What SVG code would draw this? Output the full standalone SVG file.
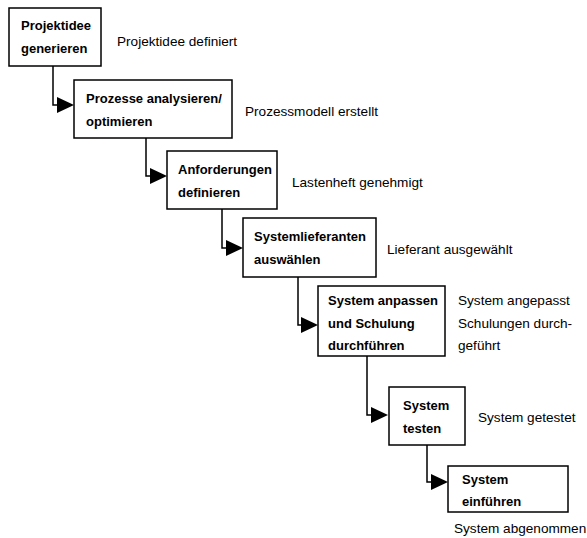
<svg xmlns="http://www.w3.org/2000/svg" width="587" height="538" viewBox="0 0 587 538">
<defs>
<style>
.box{fill:#fff;stroke:#000;stroke-width:1.5}
.t{font-family:"Liberation Sans",Arial,sans-serif;font-size:13px;font-weight:bold;fill:#000}
.l{font-family:"Liberation Sans",Arial,sans-serif;font-size:13.6px;fill:#000}
.c{fill:none;stroke:#000;stroke-width:1.5}
.a{fill:#000}
</style>
</defs>
<rect width="587" height="538" fill="#fff"/>
<g id="connectors">
<path class="c" d="M53,66 V105 H59"/>
<path class="a" d="M57,97 L74,105 L57,113 z"/>
<path class="c" d="M146,138 V176 H152"/>
<path class="a" d="M150,168 L167,176 L150,184 z"/>
<path class="c" d="M222,209 V248 H228"/>
<path class="a" d="M226,240 L243,248 L226,256 z"/>
<path class="c" d="M298,277 V325 H303"/>
<path class="a" d="M301,317 L318,325 L301,333 z"/>
<path class="c" d="M367,356 V415 H373"/>
<path class="a" d="M371,407 L388,415 L371,423 z"/>
<path class="c" d="M427,445 V482 H433"/>
<path class="a" d="M431,474 L448,482 L431,490 z"/>
</g>
<g id="n1"><rect class="box" x="9" y="8" width="92" height="58"/><text class="t" x="21" y="30">Projektidee</text><text class="t" x="21" y="53">generieren</text><text class="l" x="117" y="46">Projektidee definiert</text></g>
<g id="n2"><rect class="box" x="74" y="80" width="158" height="58"/><text class="t" x="86" y="103">Prozesse analysieren/</text><text class="t" x="86" y="126">optimieren</text><text class="l" x="245" y="116">Prozessmodell erstellt</text></g>
<g id="n3"><rect class="box" x="167" y="151" width="110" height="58"/><text class="t" x="178" y="174">Anforderungen</text><text class="t" x="178" y="197">definieren</text><text class="l" x="292" y="187">Lastenheft genehmigt</text></g>
<g id="n4"><rect class="box" x="243" y="218" width="133" height="59"/><text class="t" x="254" y="241">Systemlieferanten</text><text class="t" x="254" y="264">auswählen</text><text class="l" x="387" y="254">Lieferant ausgewählt</text></g>
<g id="n5"><rect class="box" x="318" y="286" width="127" height="70"/><text class="t" x="328" y="305">System anpassen</text><text class="t" x="328" y="328">und Schulung</text><text class="t" x="328" y="350">durchführen</text><text class="l" x="458" y="305">System angepasst</text><text class="l" x="458" y="328">Schulungen durch-</text><text class="l" x="458" y="350">geführt</text></g>
<g id="n6"><rect class="box" x="389" y="387" width="76" height="58"/><text class="t" x="403" y="410">System</text><text class="t" x="403" y="433">testen</text><text class="l" x="478" y="422">System getestet</text></g>
<g id="n7"><rect class="box" x="448" y="466" width="120" height="46"/><text class="t" x="462" y="484">System</text><text class="t" x="462" y="506">einführen</text><text class="l" x="454" y="533">System abgenommen</text></g>
</svg>
